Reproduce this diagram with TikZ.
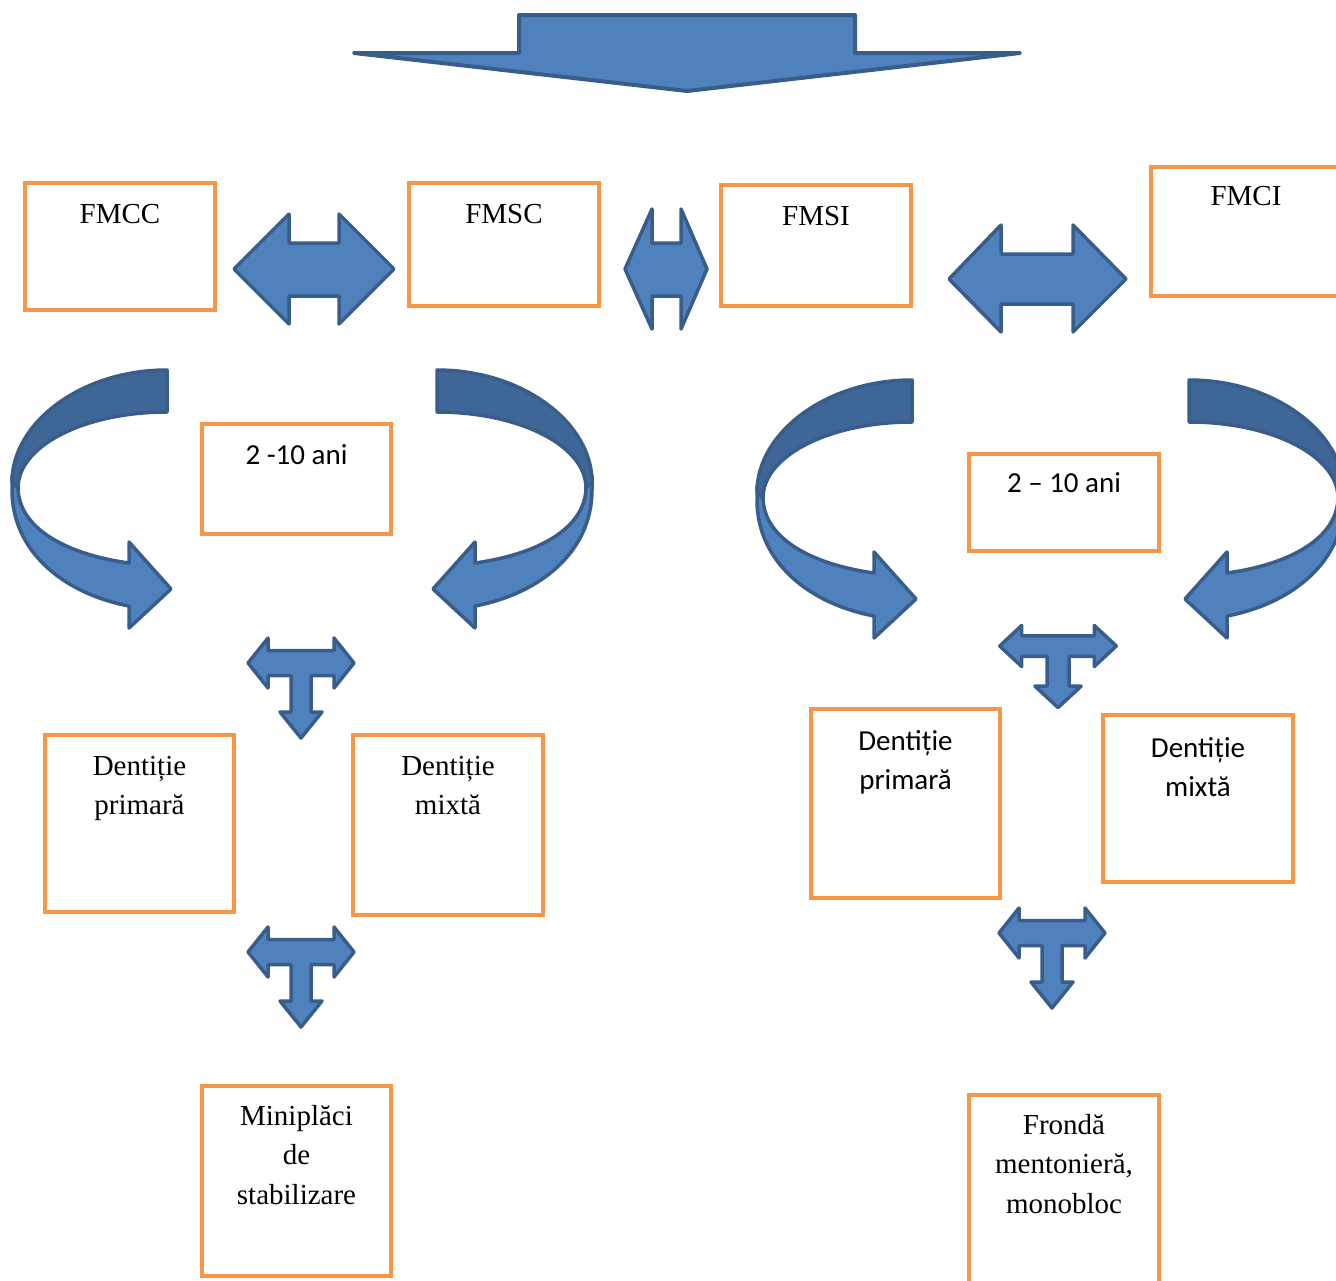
\documentclass[tikz,border=0pt]{standalone}
\usepackage{fontspec}
\setmainfont{Liberation Serif}
\newfontfamily\sansf{Carlito}
\definecolor{orng}{HTML}{F79646}
\definecolor{blu}{HTML}{4F81BD}
\definecolor{bluedge}{HTML}{385D8A}
\definecolor{bluedark}{RGB}{62,102,150}
\tikzset{
  box/.style={draw=orng, line width=4pt, rectangle, inner sep=0pt, fill=white},
  lbl/.style={anchor=base, inner sep=0pt, font=\fontsize{29}{39.5}\selectfont},
  lbls/.style={anchor=base, inner sep=0pt, font=\fontsize{29}{39.5}\selectfont\sansf},
  blk/.style={fill=blu, draw=bluedge, line width=3.5pt, line join=round},
  blkd/.style={blk, fill=bluedark},
  tarrow/.pic={
    \path[blk] (-53,0) -- (-33,-25) -- (-33,-12.5) -- (33,-12.5) -- (33,-25) -- (53,0)
      -- (33,25) -- (33,12.5) -- (10,12.5) -- (10,49) -- (21,49) -- (0,75) -- (-21,49)
      -- (-10,49) -- (-10,12.5) -- (-33,12.5) -- (-33,25) -- cycle;
  },
  curvarr/.pic={
    \path[blk] (-149,117) .. controls (-149,157) and (-103,184) .. (-38,193)
      -- (-38,172) -- (4,219) -- (-38,258) -- (-38,236)
      .. controls (-105.5,223) and (-155,180) .. (-155,120) -- (-155,106) -- cycle;
    \path[blkd] (0,0) .. controls (-86,0) and (-155,53) .. (-155,112) -- (-149,118)
      .. controls (-149,75.6) and (-82.3,42) .. (0,42) -- cycle;
  }
}
\begin{document}
\begin{tikzpicture}[x=1pt,y=-1pt]
\useasboundingbox (0,0) rectangle (1336,1280);
\clip (0,0) rectangle (1336,1280);

% top arrow
\path[blk, line width=4pt] (519,15) -- (855,15) -- (855,53) -- (1020,53) -- (687,91)
  -- (354,53) -- (519,53) -- cycle;

% top row boxes
\node[box, minimum width=190, minimum height=127] (fmcc) at (120,246.5) {};
\node[box, minimum width=190, minimum height=123] (fmsc) at (504,244.5) {};
\node[box, minimum width=190, minimum height=121] (fmsi) at (816,245.5) {};
\node[box, minimum width=190, minimum height=129] (fmci) at (1246,231.5) {};
\node[lbl] (tfmcc) at (fmcc.center |- 0,223) {FMCC};
\node[lbl] (tfmsc) at (fmsc.center |- 0,223) {FMSC};
\node[lbl] (tfmsi) at (fmsi.center |- 0,225) {FMSI};
\node[lbl] (tfmci) at (fmci.center |- 0,205) {FMCI};

% double arrows
\path[blk] (234,269) -- (289,214) -- (289,243) -- (339,243) -- (339,214) -- (394,269)
  -- (339,324) -- (339,296) -- (289,296) -- (289,324) -- cycle;
\path[blk] (625,269) -- (652,209) -- (652,243) -- (681,243) -- (681,209) -- (707,269)
  -- (681,329) -- (681,296) -- (652,296) -- (652,329) -- cycle;
\path[blk] (949,279) -- (1001,225) -- (1001,254) -- (1073,254) -- (1073,225) -- (1126,279)
  -- (1073,332) -- (1073,304) -- (1001,304) -- (1001,332) -- cycle;

% curved arrows
\pic (cl1) at (167,370) {curvarr};
\pic[xscale=-1] (cl2) at (437,370) {curvarr};
\pic (cr1) at (912,380) {curvarr};
\pic[xscale=-1] (cr2) at (1189,380) {curvarr};

% age boxes
\node[box, minimum width=189, minimum height=110] (aniL) at (296.5,479) {};
\node[box, minimum width=190, minimum height=97] (aniR) at (1064,502.5) {};
\node[lbls] (taniL) at (aniL.center |- 0,464) {2 -10 ani};
\node[lbls] (taniR) at (aniR.center |- 0,492) {2 – 10 ani};

% T arrows
\pic (t1) at (301,663) {tarrow};
\pic (t2) at (301,952) {tarrow};
\pic[xscale=1.1, yscale=0.82] (t3) at (1058,646) {tarrow};
\pic (t4) at (1052,933) {tarrow};

% dentition boxes
\node[box, minimum width=189, minimum height=177] (dpL) at (139.5,823.5) {};
\node[box, minimum width=190, minimum height=180] (dmL) at (448,825) {};
\node[box, minimum width=189, minimum height=189] (dpR) at (905.5,803.5) {};
\node[box, minimum width=190, minimum height=167] (dmR) at (1198,798.5) {};
\node[lbl] (tdpL) at (dpL.center |- 0,775) {\begin{tabular}[t]{@{}c@{}}Dentiție\\primară\end{tabular}};
\node[lbl] (tdmL) at (dmL.center |- 0,775) {\begin{tabular}[t]{@{}c@{}}Dentiție\\mixtă\end{tabular}};
\node[lbls] (tdpR) at (dpR.center |- 0,750) {\begin{tabular}[t]{@{}c@{}}Dentiție\\primară\end{tabular}};
\node[lbls] (tdmR) at (dmR.center |- 0,757) {\begin{tabular}[t]{@{}c@{}}Dentiție\\mixtă\end{tabular}};

% bottom boxes
\node[box, minimum width=189, minimum height=190] (mini) at (296.5,1181) {};
\node[box, minimum width=190, minimum height=203] (fronda) at (1064,1196) {};
\node[lbl] (tmini) at (mini.center |- 0,1125) {\begin{tabular}[t]{@{}c@{}}Miniplăci\\de\\stabilizare\end{tabular}};
\node[lbl] (tfronda) at (fronda.center |- 0,1134) {\begin{tabular}[t]{@{}c@{}}Frondă\\mentonieră,\\monobloc\end{tabular}};
\end{tikzpicture}
\end{document}
